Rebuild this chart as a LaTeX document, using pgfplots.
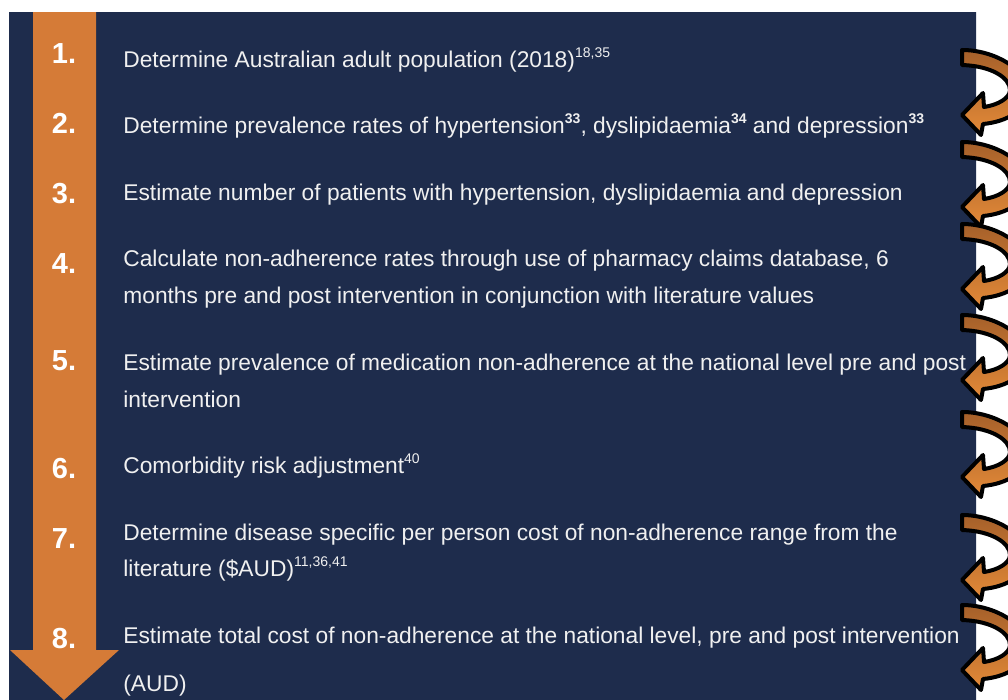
\documentclass[border=0pt]{standalone}
\usepackage{pgfplots}
\pgfplotsset{compat=1.18}
\usepackage{fontspec}
\setmainfont{Liberation Sans}
\definecolor{navy}{RGB}{30,44,76}
\definecolor{orng}{RGB}{213,123,55}
\definecolor{txt}{RGB}{240,240,240}
\definecolor{arrTop}{RGB}{165,96,42}
\definecolor{arrBot}{RGB}{228,138,56}
\newcommand\sups[1]{\raisebox{4.6pt}{\fontsize{7}{8}\selectfont #1}}
\newcommand\supb[1]{\raisebox{4.6pt}{\fontsize{7}{8}\selectfont\bfseries #1}}
\tikzset{
  num/.style={anchor=base,font=\fontsize{14.5}{16}\selectfont\bfseries,text=white,inner sep=0pt},
  lbl/.style={anchor=base west,font=\fontsize{11.38}{13}\selectfont,text=txt,inner sep=0pt}}
\begin{document}
\begin{tikzpicture}
\fill[white] (0,0) rectangle (504pt,-350pt);
\begin{axis}[at={(0,0)},anchor=north west,width=504pt,height=350pt,scale only axis,
  xmin=0,xmax=1008,ymin=0,ymax=700,y dir=reverse,hide axis,clip=false]
\addplot[fill=navy,draw=none] coordinates {(9,12)(976,12)(976,700)(9,700)(9,12)};
\addplot[fill=orng,draw=none] coordinates {(33,12)(96,12)(96,650)(119,650)(64,700)(10,650)(33,650)(33,12)};
% step numbers
\node[num] at (axis cs:64,63) {1.};
\node[num] at (axis cs:64,133) {2.};
\node[num] at (axis cs:64,203) {3.};
\node[num] at (axis cs:64,273) {4.};
\node[num] at (axis cs:64,370) {5.};
\node[num] at (axis cs:64,478) {6.};
\node[num] at (axis cs:64,548) {7.};
\node[num] at (axis cs:64,648) {8.};
% step texts
\node[lbl] at (axis cs:123,67) {Determine Australian adult population (2018)\sups{18,35}};
\node[lbl] at (axis cs:123,133) {Determine prevalence rates of hypertension\supb{33}, dyslipidaemia\supb{34} and depression\supb{33}};
\node[lbl] at (axis cs:123,200) {Estimate number of patients with hypertension, dyslipidaemia and depression};
\node[lbl] at (axis cs:123,266) {Calculate non-adherence rates through use of pharmacy claims database, 6};
\node[lbl] at (axis cs:123,303) {months pre and post intervention in conjunction with literature values};
\node[lbl] at (axis cs:123,370) {Estimate prevalence of medication non-adherence at the national level pre and post};
\node[lbl] at (axis cs:123,407) {intervention};
\node[lbl] at (axis cs:123,473) {Comorbidity risk adjustment\sups{40}};
\node[lbl] at (axis cs:123,540) {Determine disease specific per person cost of non-adherence range from the};
\node[lbl] at (axis cs:123,576) {literature (\$AUD)\sups{11,36,41}};
\node[lbl] at (axis cs:123,643) {Estimate total cost of non-adherence at the national level, pre and post intervention};
\node[lbl] at (axis cs:123,691) {(AUD)};
\end{axis}
\begin{scope}[x=0.5pt,y=-0.5pt]
\clip (0,0) rectangle (1008,700);
\foreach \y in {48,140,222,313,410,513,603} {
 \draw[line width=2pt, line join=round, top color=arrTop, bottom color=arrBot]
   (962,\y+2) .. controls (995,\y+2) and (1028,\y+22) .. (1028,\y+44)
   .. controls (1028,\y+62) and (1006,\y+74) .. (983,\y+76)
   -- (981,\y+87) -- (962,\y+67) -- (983,\y+45) -- (984,\y+59)
   .. controls (998,\y+57) and (1010,\y+50) .. (1010,\y+42)
   .. controls (1010,\y+30) and (992,\y+18) .. (962,\y+17) -- cycle;
}
\end{scope}
\pgfresetboundingbox
\path[use as bounding box] (0,0) rectangle (504pt,-350pt);
\end{tikzpicture}
\end{document}
